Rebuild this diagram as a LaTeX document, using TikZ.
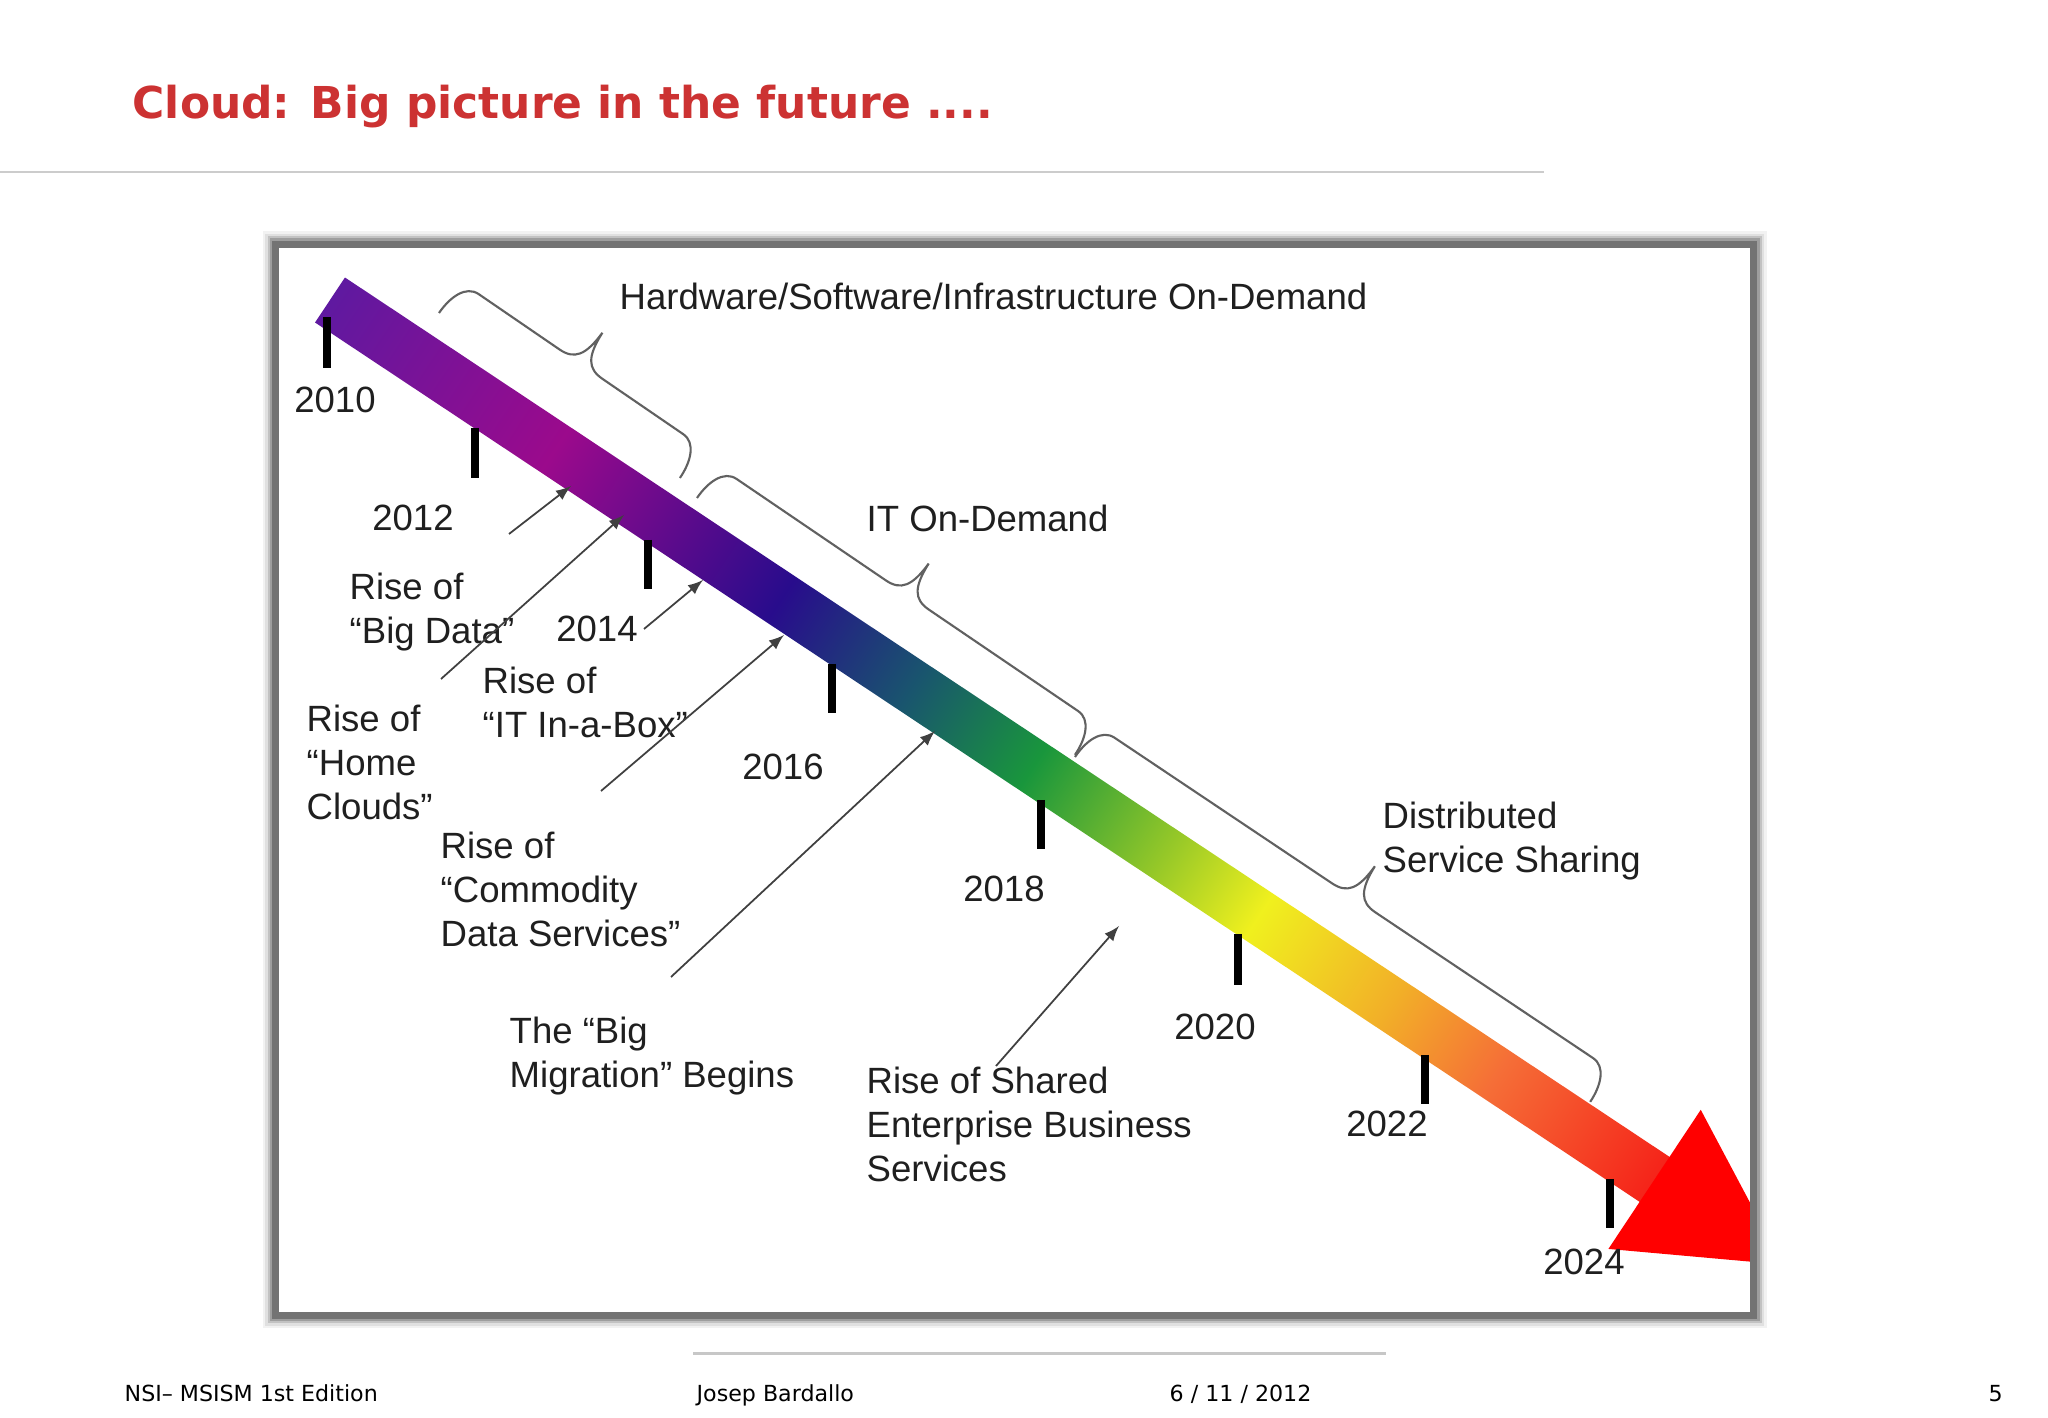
\documentclass[tikz,border=0pt]{standalone}
\usepackage{fontspec}
\setmainfont{Liberation Sans}
\newfontfamily\slidefont{DejaVu Sans}

\definecolor{titlered}{RGB}{204,50,50}
\definecolor{arrowred}{RGB}{255,0,0}
\definecolor{bandA}{RGB}{95,25,160}
\definecolor{bandB}{RGB}{155,10,140}
\definecolor{bandC}{RGB}{40,12,140}
\definecolor{bandD}{RGB}{25,85,110}
\definecolor{bandE}{RGB}{25,150,60}
\definecolor{bandF}{RGB}{150,200,40}
\definecolor{bandG}{RGB}{240,240,30}
\definecolor{bandH}{RGB}{242,175,40}
\definecolor{bandI}{RGB}{245,110,55}
\definecolor{bandJ}{RGB}{245,35,25}

\pgfdeclarehorizontalshading{bandgrad}{100bp}{color(0bp)=(bandA); color(25bp)=(bandA);
  color(33.5bp)=(bandB); color(42bp)=(bandC); color(47bp)=(bandD); color(51.5bp)=(bandE);
  color(56.5bp)=(bandF); color(60bp)=(bandG); color(65bp)=(bandH); color(69bp)=(bandI);
  color(75bp)=(bandJ); color(100bp)=(bandJ)}

\tikzset{
  lblfont/.style={font=\fontsize{10.4}{12.6}\selectfont, text=black!88},
  yearlbl/.style={lblfont, inner sep=0pt},
  eventlbl/.style={lblfont, anchor=north west, inner sep=0pt, align=left},
  yeartick/.style={line width=0.08cm, black},
  leader/.style={->, line width=0.5pt, draw=black!75},
  bracestroke/.style={line width=0.6pt, draw=black!62},
  footlbl/.style={anchor=base west, inner sep=0pt, font=\slidefont\fontsize{6.3}{7.5}\selectfont},
  pics/curly/.style={code={
    \draw[bracestroke] (0,0) .. controls (0,0.2) and (0.07,0.38) .. (0.22,0.38)
      -- ({#1/2-0.26},0.38) .. controls ({#1/2-0.08},0.38) and ({#1/2-0.01},0.48) .. ({#1/2},0.76)
      .. controls ({#1/2+0.01},0.48) and ({#1/2+0.08},0.38) .. ({#1/2+0.26},0.38)
      -- ({#1-0.22},0.38) .. controls ({#1-0.07},0.38) and (#1,0.2) .. (#1,0);
  }}
}

\begin{document}
\begin{tikzpicture}[>=latex]
    \useasboundingbox (0,0) rectangle (20.48,-14.18);
    \fill[white] (0,0) rectangle (20.48,-14.18);

    % slide title
    \node[anchor=base west, inner sep=0pt, text=titlered,
          font=\slidefont\bfseries\fontsize{12.5}{15}\selectfont] (title) at (1.32,-1.185)
          {Cloud: Big picture in the future ....};
    \draw[line width=0.02cm, black!20] (0,-1.72) -- (15.44,-1.72);

    % frame with soft shadow
    \draw[line width=0.26cm, black!5] (2.755,-2.445) rectangle (17.535,-13.155);
    \draw[line width=0.21cm, black!12] (2.755,-2.445) rectangle (17.535,-13.155);
    \draw[line width=0.16cm, black!24] (2.755,-2.445) rectangle (17.535,-13.155);
    \draw[line width=0.12cm, black!38] (2.755,-2.445) rectangle (17.535,-13.155);
    \fill[white] (2.79,-2.48) rectangle (17.50,-13.12);

    \begin{scope}
    \clip (2.79,-2.48) rectangle (17.50,-13.12);

    % time band
    \begin{scope}[transform canvas={shift={(3.30,-3.00)}, rotate=-33.58}]
        \shade[shading=bandgrad] (0,-0.27) rectangle (15.92,0.27);
    \end{scope}
    \begin{scope}[shift={(3.30,-3.00)}, rotate=-33.58]
        \fill[arrowred] (15.90,0.835) -- (15.90,-0.835) -- (17.44,0) -- cycle;
    \end{scope}

    % year ticks
    \draw[yeartick] (3.27,-3.17) -- (3.27,-3.68);
    \draw[yeartick] (4.75,-4.28) -- (4.75,-4.78);
    \draw[yeartick] (6.48,-5.40) -- (6.48,-5.89);
    \draw[yeartick] (8.32,-6.64) -- (8.32,-7.13);
    \draw[yeartick] (10.41,-8.00) -- (10.41,-8.49);
    \draw[yeartick] (12.38,-9.34) -- (12.38,-9.85);
    \draw[yeartick] (14.25,-10.55) -- (14.25,-11.04);
    \draw[yeartick] (16.10,-11.79) -- (16.10,-12.28);

    % years
    \node[yearlbl] (y10) at (3.35,-4.00) {2010};
    \node[yearlbl] (y12) at (4.13,-5.18) {2012};
    \node[yearlbl] (y14) at (5.97,-6.29) {2014};
    \node[yearlbl] (y16) at (7.83,-7.67) {2016};
    \node[yearlbl] (y18) at (10.04,-8.89) {2018};
    \node[yearlbl] (y20) at (12.15,-10.27) {2020};
    \node[yearlbl] (y22) at (13.87,-11.24) {2022};
    \node[yearlbl] (y24) at (15.84,-12.62) {2024};

    % phases
    \coordinate (hw-a) at (4.39,-3.13);
    \coordinate (it-a) at (6.97,-4.98);
    \coordinate (ds-a) at (10.75,-7.57);
    \pic[rotate=-34.4] at (hw-a) {curly=2.92};
    \pic[rotate=-34.2] at (it-a) {curly=4.57};
    \pic[rotate=-33.8] at (ds-a) {curly=6.20};
    \node[eventlbl] (hwlbl) at (6.19,-2.82) {Hardware/Software/Infrastructure On-Demand};
    \node[eventlbl] (itlbl) at (8.66,-5.04) {IT On-Demand};
    \node[eventlbl] (dsslbl) at (13.82,-8.01) {Distributed\\Service Sharing};

    % events
    \node[eventlbl] (bigdata) at (3.49,-5.72) {Rise of\\“Big Data”};
    \node[eventlbl] (itbox) at (4.82,-6.66) {Rise of\\“IT In-a-Box”};
    \node[eventlbl] (homecl) at (3.06,-7.04) {Rise of\\“Home\\Clouds”};
    \node[eventlbl] (commod) at (4.40,-8.31) {Rise of\\“Commodity\\Data Services”};
    \node[eventlbl] (bigmig) at (5.09,-10.16) {The “Big\\Migration” Begins};
    \node[eventlbl] (shared) at (8.66,-10.66) {Rise of Shared\\Enterprise Business\\Services};

    % leaders to the band
    \coordinate (bd-from) at (5.09,-5.34);  \coordinate (bd-to) at (5.71,-4.86);
    \coordinate (hc-from) at (4.41,-6.79);  \coordinate (hc-to) at (6.24,-5.15);
    \coordinate (ib-from) at (6.44,-6.29);  \coordinate (ib-to) at (7.03,-5.80);
    \coordinate (cd-from) at (6.01,-7.91);  \coordinate (cd-to) at (7.84,-6.35);
    \coordinate (bm-from) at (6.71,-9.77);  \coordinate (bm-to) at (9.35,-7.31);
    \coordinate (sh-from) at (9.96,-10.66); \coordinate (sh-to) at (11.19,-9.26);
    \draw[leader] (bd-from) -- (bd-to);
    \draw[leader] (hc-from) -- (hc-to);
    \draw[leader] (ib-from) -- (ib-to);
    \draw[leader] (cd-from) -- (cd-to);
    \draw[leader] (bm-from) -- (bm-to);
    \draw[leader] (sh-from) -- (sh-to);
    \end{scope}

    \draw[line width=0.07cm, black!55] (2.755,-2.445) rectangle (17.535,-13.155);

    % footer
    \draw[line width=0.03cm, black!22] (6.93,-13.54) -- (13.86,-13.54);
    \node[footlbl] (edition) at (1.24,-14.02) {NSI– MSISM 1st Edition};
    \node[footlbl] (author) at (6.96,-14.02) {Josep Bardallo};
    \node[footlbl] (date) at (11.69,-14.02) {6 / 11 / 2012};
    \node[footlbl] (page) at (19.88,-14.02) {5};
\end{tikzpicture}
\end{document}
